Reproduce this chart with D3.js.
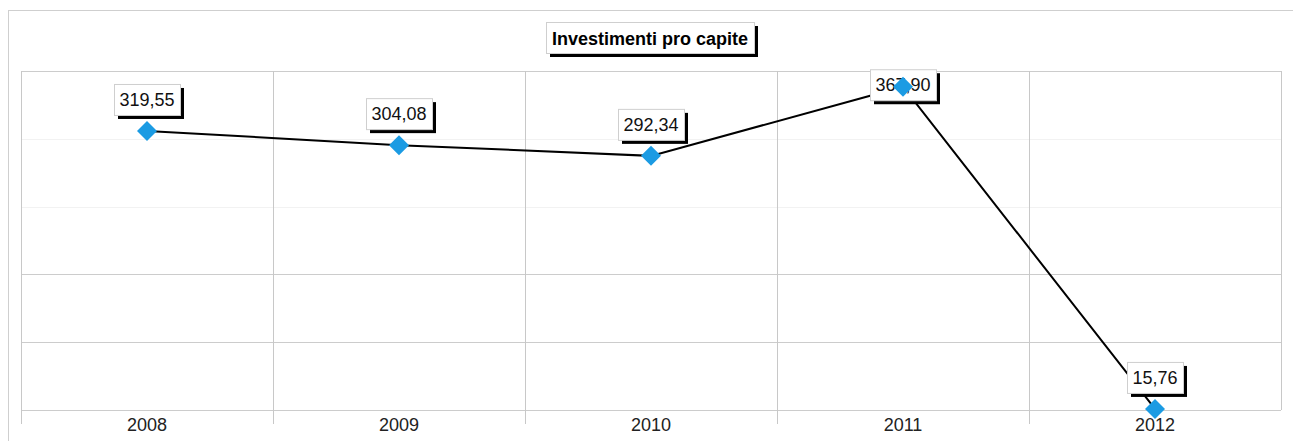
<!DOCTYPE html>
<html>
<head>
<meta charset="utf-8">
<script src="https://cdn.jsdelivr.net/npm/d3@7"></script>
<style>
  html, body { margin: 0; padding: 0; background: #fff; }
  svg { display: block; font-family: "Liberation Sans", Arial, sans-serif; }
</style>
</head>
<body>
<svg id="chart" width="1293" height="441"></svg>
<script>
const title = "Investimenti pro capite";
const years = ["2008", "2009", "2010", "2011", "2012"];
const values = [319.55, 304.08, 292.34, 367.90, 15.76];
const valueLabels = ["319,55", "304,08", "292,34", "367,90", "15,76"];
const yDomain = [14.6, 385.1];
const gridDivisions = 5;

const W = 1293, H = 441;
const plot = { left: 21, top: 71, right: 1281, bottom: 410 };

const svg = d3.select("#chart");

// outer frame
svg.append("rect")
  .attr("x", 8.5).attr("y", 10.5)
  .attr("width", W + 10).attr("height", H + 10)
  .attr("fill", "#fff").attr("stroke", "#cfcfcf").attr("stroke-width", 1);

const x = d3.scaleBand().domain(years).range([plot.left, plot.right]).padding(0);
const y = d3.scaleLinear().domain(yDomain).range([plot.bottom, plot.top]);

// horizontal grid
const gridVals = d3.range(gridDivisions + 1).map(i => yDomain[0] + i * (yDomain[1] - yDomain[0]) / gridDivisions);
svg.append("g").selectAll("line").data(gridVals).join("line")
  .attr("x1", plot.left).attr("x2", plot.right)
  .attr("y1", d => Math.round(y(d)) + 0.5).attr("y2", d => Math.round(y(d)) + 0.5)
  .attr("stroke", (d, i) => (i === 3 || i === 4) ? "#f2f2f2" : "#cccccc")
  .attr("stroke-width", 1);

// vertical grid at category boundaries
const bounds = years.map(d => x(d)).concat([plot.right]);
svg.append("g").selectAll("line").data(bounds).join("line")
  .attr("x1", d => Math.round(d) + 0.5).attr("x2", d => Math.round(d) + 0.5)
  .attr("y1", plot.top)
  .attr("y2", (d, i) => i === bounds.length - 1 ? plot.bottom : plot.bottom + 14)
  .attr("stroke", "#c8c8c8").attr("stroke-width", 1);

// x axis labels
svg.append("g").selectAll("text").data(years).join("text")
  .attr("x", d => x(d) + x.bandwidth() / 2)
  .attr("y", 431)
  .attr("text-anchor", "middle")
  .attr("font-size", 18)
  .attr("fill", "#222")
  .text(d => d);

const data = years.map((yr, i) => ({ yr, v: values[i], lab: valueLabels[i] }));
const cx = d => x(d.yr) + x.bandwidth() / 2;

// line
svg.append("path")
  .datum(data)
  .attr("d", d3.line().x(cx).y(d => y(d.v)))
  .attr("fill", "none").attr("stroke", "#000").attr("stroke-width", 2);

// helper for shadowed box
function shadowBox(g, bx, by, bw, bh) {
  g.append("rect").attr("x", bx + 4).attr("y", by + 4).attr("width", bw).attr("height", bh).attr("fill", "#000");
  g.append("rect").attr("x", bx + 0.5).attr("y", by + 0.5).attr("width", bw).attr("height", bh)
    .attr("fill", "#fff").attr("stroke", "#cfcfcf").attr("stroke-width", 1);
}

// value labels
const labG = svg.append("g");
data.forEach(d => {
  const g = labG.append("g");
  const t = g.append("text").attr("font-size", 18).attr("fill", "#111").text(d.lab);
  const tw = t.node().getComputedTextLength();
  const bw = Math.round(tw + 11), bh = 31;
  const px = cx(d), py = y(d.v);
  let by = py - 16 - bh;
  if (by < plot.top) by = py - bh / 2 - 2;
  const bx = px - bw / 2;
  t.remove();
  shadowBox(g, bx, by, bw, bh);
  g.append("text").attr("x", px).attr("y", by + 22)
    .attr("text-anchor", "middle").attr("font-size", 18).attr("fill", "#111").text(d.lab);
});

// markers
svg.append("g").selectAll("path").data(data).join("path")
  .attr("d", d3.symbol().type(d3.symbolSquare).size(200))
  .attr("transform", d => `translate(${cx(d)},${y(d.v)}) rotate(45)`)
  .attr("fill", "#1b9be3");

// title
const tg = svg.append("g");
const tt = tg.append("text").attr("font-size", 18).attr("font-weight", "bold").text(title);
const ttw = tt.node().getComputedTextLength();
tt.remove();
const tbw = Math.round(ttw + 12), tbh = 31;
const tcx = 650;
shadowBox(tg, tcx - tbw / 2, 22, tbw, tbh);
tg.append("text").attr("x", tcx).attr("y", 45)
  .attr("text-anchor", "middle").attr("font-size", 18).attr("font-weight", "bold").attr("fill", "#000")
  .text(title);
</script>
</body>
</html>
